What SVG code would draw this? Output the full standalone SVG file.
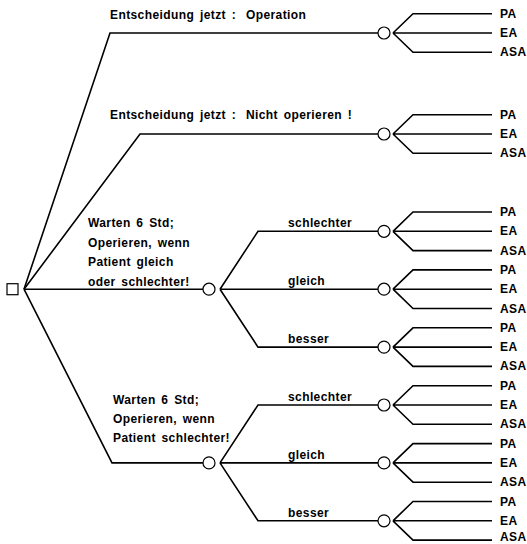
<svg xmlns="http://www.w3.org/2000/svg" width="527" height="544" viewBox="0 0 527 544">
<style>
.ln{fill:none;stroke:#000;stroke-width:1.6;stroke-linejoin:miter}
.ch{fill:#fff;stroke:#000;stroke-width:1.2}
.dc{fill:#fff;stroke:#000;stroke-width:1.2}
text{font-family:"Liberation Sans",Arial,sans-serif;font-weight:bold;font-size:12px;fill:#000}
.lf{letter-spacing:0.4px;font-size:11.5px}
.lb{letter-spacing:0.4px;word-spacing:2px}
</style>
<rect width="527" height="544" fill="#fff"/>
<g id="connectors" class="ln">
<path d="M24,289.2 L110,33 L378,33"/>
<path d="M24,289.2 L140,134 L378,134"/>
<path d="M24,289.2 L203,289.2"/>
<path d="M24,289.2 L112,462.9 L203,462.9"/>
<path d="M220,289.2 L258,231.3 L378,231.3 M220,289.2 L378,289.2 M220,289.2 L258,347.1 L378,347.1"/>
<path d="M220,462.9 L258,405 L378,405 M220,462.9 L378,462.9 M220,462.9 L258,520.8 L378,520.8"/>
<path d="M393,33 L413,13.7 L492,13.7 M393,33 L492,33 M393,33 L413,52.3 L492,52.3"/>
<path d="M393,134 L413,114.7 L492,114.7 M393,134 L492,134 M393,134 L413,153.3 L492,153.3"/>
<path d="M393,231.3 L413,212 L492,212 M393,231.3 L492,231.3 M393,231.3 L413,250.6 L492,250.6"/>
<path d="M393,289.2 L413,269.9 L492,269.9 M393,289.2 L492,289.2 M393,289.2 L413,308.5 L492,308.5"/>
<path d="M393,347.1 L413,327.8 L492,327.8 M393,347.1 L492,347.1 M393,347.1 L413,366.4 L492,366.4"/>
<path d="M393,405 L413,385.7 L492,385.7 M393,405 L492,405 M393,405 L413,424.3 L492,424.3"/>
<path d="M393,462.9 L413,443.6 L492,443.6 M393,462.9 L492,462.9 M393,462.9 L413,482.2 L492,482.2"/>
<path d="M393,520.8 L413,501.5 L492,501.5 M393,520.8 L492,520.8 M393,520.8 L413,540.1 L492,540.1"/>
</g>
<g id="decision"><rect class="dc" x="7" y="283.7" width="11" height="11"/></g>
<g id="label-op" class="lb"><text y="19"><tspan x="110">Entscheidung</tspan> <tspan x="200">jetzt :</tspan> <tspan x="246">Operation</tspan></text></g>
<g id="label-nicht" class="lb"><text y="119"><tspan x="110">Entscheidung</tspan> <tspan x="200">jetzt :</tspan> <tspan x="246">Nicht operieren !</tspan></text></g>
<g id="label-warten1" class="lb"><text x="88" y="227">Warten 6 Std;</text><text x="88" y="247">Operieren, wenn</text><text x="88" y="266">Patient gleich</text><text x="88" y="286">oder schlechter!</text></g>
<g id="label-warten2" class="lb"><text x="113" y="404">Warten 6 Std;</text><text x="113" y="423">Operieren, wenn</text><text x="113" y="442">Patient schlechter!</text></g>
<g id="chance-op"><circle class="ch" cx="384" cy="33" r="6"/></g>
<g id="chance-nicht"><circle class="ch" cx="384" cy="134" r="6"/></g>
<g id="chance-w1"><circle class="ch" cx="209" cy="289.2" r="6"/></g>
<g id="chance-w2"><circle class="ch" cx="209" cy="462.9" r="6"/></g>
<g id="chance-w1-s"><circle class="ch" cx="384" cy="231.3" r="6"/><text class="lb" x="288" y="227">schlechter</text></g>
<g id="chance-w1-g"><circle class="ch" cx="384" cy="289.2" r="6"/><text class="lb" x="288" y="285">gleich</text></g>
<g id="chance-w1-b"><circle class="ch" cx="384" cy="347.1" r="6"/><text class="lb" x="288" y="343">besser</text></g>
<g id="chance-w2-s"><circle class="ch" cx="384" cy="405" r="6"/><text class="lb" x="288" y="401">schlechter</text></g>
<g id="chance-w2-g"><circle class="ch" cx="384" cy="462.9" r="6"/><text class="lb" x="288" y="459">gleich</text></g>
<g id="chance-w2-b"><circle class="ch" cx="384" cy="520.8" r="6"/><text class="lb" x="288" y="517">besser</text></g>
<g id="leaves" class="lf">
<text x="500" y="17.7">PA</text><text x="500" y="37">EA</text><text x="500" y="56.3">ASA</text>
<text x="500" y="118.7">PA</text><text x="500" y="138">EA</text><text x="500" y="157.3">ASA</text>
<text x="500" y="216">PA</text><text x="500" y="235.3">EA</text><text x="500" y="254.6">ASA</text>
<text x="500" y="273.9">PA</text><text x="500" y="293.2">EA</text><text x="500" y="312.5">ASA</text>
<text x="500" y="331.8">PA</text><text x="500" y="351.1">EA</text><text x="500" y="370.4">ASA</text>
<text x="500" y="389.7">PA</text><text x="500" y="409">EA</text><text x="500" y="428.3">ASA</text>
<text x="500" y="447.6">PA</text><text x="500" y="466.9">EA</text><text x="500" y="486.2">ASA</text>
<text x="500" y="505.5">PA</text><text x="500" y="524.8">EA</text><text x="500" y="540.5">ASA</text>
</g>
</svg>
